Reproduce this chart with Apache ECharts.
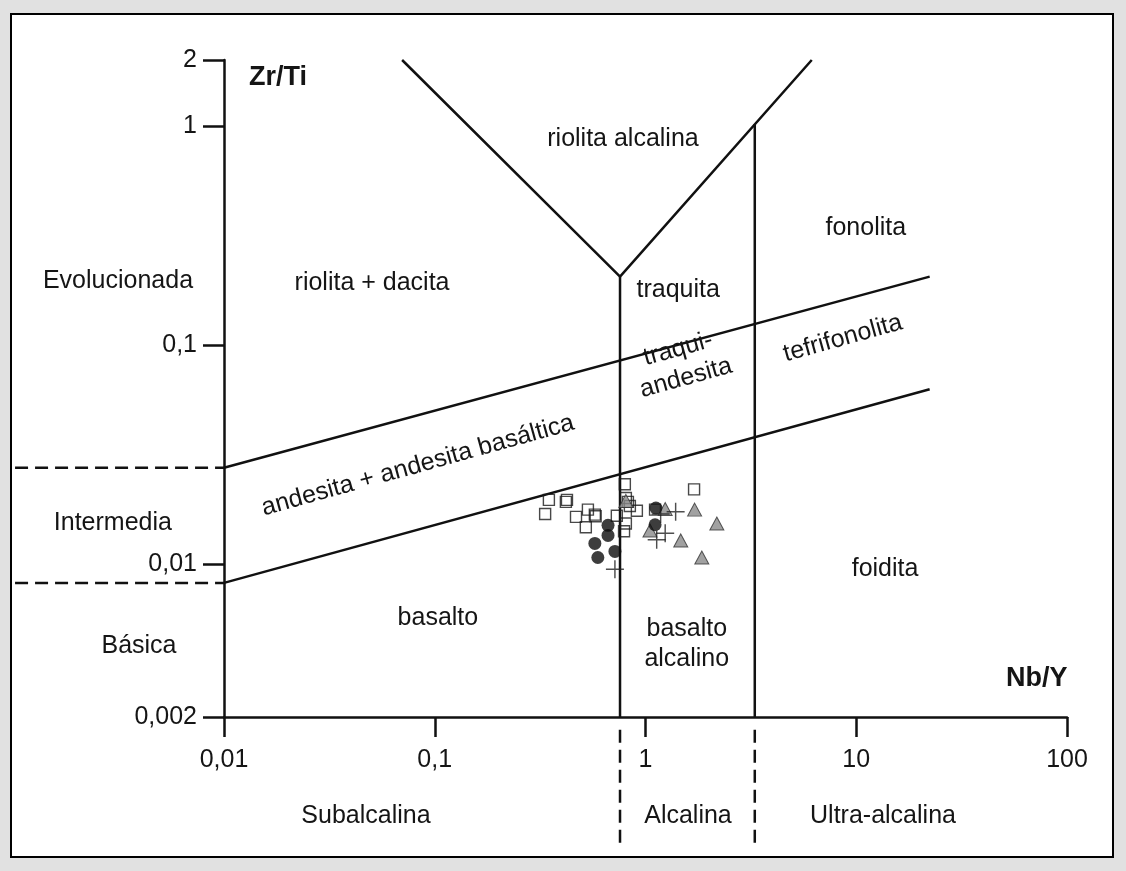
<!DOCTYPE html>
<html>
<head>
<meta charset="utf-8">
<script src="https://cdn.jsdelivr.net/npm/echarts@6/dist/echarts.min.js"></script>
<style>
html,body{margin:0;padding:0;background:#e1e1e1;}
#box{position:absolute;left:10px;top:13px;width:1104px;height:845px;background:#fff;border:2px solid #000;box-sizing:border-box;}
#c{position:absolute;left:0;top:0;width:1126px;height:871px;}
</style>
</head>
<body>
<div id="box"></div>
<div id="c"></div>
<script>
// ---- Axis ticks ----
const xTicks = [0.01, 0.1, 1, 10, 100];
const yTicks = [0.002, 0.01, 0.1, 1, 2];

// ---- Samples [Nb/Y, Zr/Ti] ----
const squares = [
  [0.348, 0.0196], [0.334, 0.0169], [0.424, 0.0196], [0.419, 0.0192],
  [0.468, 0.0164], [0.533, 0.0177], [0.521, 0.0147], [0.575, 0.0168],
  [0.580, 0.0165], [0.731, 0.0166], [0.798, 0.0231], [0.807, 0.0200],
  [0.825, 0.0192], [0.843, 0.0184], [0.910, 0.0175], [0.807, 0.0153],
  [0.791, 0.0141], [1.11, 0.0177], [1.70, 0.0219]
];
const circles = [
  [0.664, 0.0150], [0.664, 0.0135], [0.575, 0.0124], [0.594, 0.0107],
  [0.716, 0.0114], [1.12, 0.0180], [1.11, 0.0151]
];
const triangles = [
  [0.807, 0.0194], [1.24, 0.0178], [1.05, 0.0142], [1.71, 0.0177],
  [2.18, 0.0153], [1.47, 0.0128], [1.85, 0.0107]
];
const crosses = [
  [1.39, 0.0173], [1.18, 0.0169], [1.24, 0.0138], [1.13, 0.0129], [0.716, 0.00946]
];

// ---- Field boundaries ----
const boundaryV = [[0.07, 2], [0.757, 0.205], [6.15, 2]];
const boundaryAlk = [[0.757, 0.205], [0.757, 0.002]];
const boundaryUltra = [[3.3, 1.02], [3.3, 0.002]];
const boundaryUpper = [[0.01, 0.0275], [22.3, 0.205]];
const boundaryLower = [[0.01, 0.00819], [22.3, 0.0628]];
// dashed guides outside the plot frame
const guideEvol = [[0.00102, 0.0275], [0.01, 0.0275]];
const guideBas = [[0.00102, 0.00819], [0.01, 0.00819]];
const guideAlk = [[0.757, 0.00175], [0.757, 0.00053]];
const guideUltra = [[3.3, 0.00175], [3.3, 0.00053]];
const guides = [guideEvol, guideBas, guideAlk, guideUltra];

// ---- Field labels ----
const fieldNames = ['riolita alcalina', 'fonolita', 'Evolucionada', 'riolita + dacita', 'traquita',
  'traqui-\nandesita', 'tefrifonolita', 'andesita + andesita basáltica', 'Intermedia', 'foidita',
  'basalto', 'Básica', 'basalto\nalcalino'];
const fieldX = [0.782, 11.1, 0.00314, 0.0504, 1.43, 1.49, 8.64, 0.0832, 0.00297, 13.7, 0.1035, 0.00395, 1.57];
const fieldY = [0.868, 0.343, 0.195, 0.191, 0.178, 0.0822, 0.107, 0.0281, 0.0153, 0.00946, 0.00568, 0.00421, 0.0043];
const fieldRot = [0, 0, 0, 0, 0, 15.5, 15.5, 15.5, 0, 0, 0, 0, 0];

const FONT = '"Liberation Sans", Arial, Helvetica, sans-serif';
const INK = '#151515';
const fmt = v => String(v).replace('.', ',');

const lineSeries = (data) => ({
  type: 'line', data: data, symbol: 'none', silent: true, clip: false, z: 1,
  lineStyle: { color: '#111', width: 2.5 }, animation: false
});

const chart = echarts.init(document.getElementById('c'));
chart.setOption({
  backgroundColor: 'transparent',
  animation: false,
  textStyle: { fontFamily: FONT },
  grid: { left: 224, right: 59, top: 60, bottom: 154, containLabel: false, outerBoundsMode: 'none' },
  xAxis: {
    type: 'log', logBase: 10, min: xTicks[0], max: xTicks[xTicks.length - 1],
    axisLine: { onZero: false, lineStyle: { color: '#111', width: 2.5 } },
    axisTick: { show: true, inside: false, length: 20, lineStyle: { color: '#111', width: 2.5 } },
    axisLabel: { margin: 31, fontSize: 25, color: INK, fontFamily: FONT, formatter: fmt },
    splitLine: { show: false }, minorTick: { show: false }
  },
  yAxis: {
    type: 'log', logBase: 10, min: yTicks[0], max: yTicks[yTicks.length - 1],
    axisLine: { onZero: false, lineStyle: { color: '#111', width: 2.5 } },
    axisTick: { show: true, inside: false, length: 21, lineStyle: { color: '#111', width: 2.5 } },
    axisLabel: { margin: 27, fontSize: 25, color: INK, fontFamily: FONT, formatter: fmt },
    splitLine: { show: false }, minorTick: { show: false }
  },
  graphic: [
    { type: 'text', left: 249, top: 64, style: { text: 'Zr/Ti', font: 'bold 27px ' + FONT, fill: INK } },
    { type: 'text', left: 1006, top: 665, style: { text: 'Nb/Y', font: 'bold 27px ' + FONT, fill: INK } },
    { type: 'text', x: 366, y: 816, style: { text: 'Subalcalina', font: '25px ' + FONT, fill: INK, align: 'center', verticalAlign: 'middle' } },
    { type: 'text', x: 688, y: 816, style: { text: 'Alcalina', font: '25px ' + FONT, fill: INK, align: 'center', verticalAlign: 'middle' } },
    { type: 'text', x: 883, y: 816, style: { text: 'Ultra-alcalina', font: '25px ' + FONT, fill: INK, align: 'center', verticalAlign: 'middle' } }
  ],
  series: [
    lineSeries(boundaryV), lineSeries(boundaryAlk), lineSeries(boundaryUltra),
    lineSeries(boundaryUpper), lineSeries(boundaryLower),
    {
      type: 'custom', name: 'guides', coordinateSystem: 'cartesian2d', clip: false, silent: true, z: 1,
      data: guides.map(g => g[1]),
      renderItem: (params, api) => {
        const g = guides[params.dataIndex];
        return {
          type: 'polyline',
          shape: { points: g.map(p => api.coord(p)) },
          style: { stroke: '#111', lineWidth: 2.5, lineDash: [13, 7], fill: null }
        };
      }
    },
    {
      type: 'custom', name: 'fields', coordinateSystem: 'cartesian2d', clip: false, silent: true, z: 3,
      data: fieldNames.map((n, i) => [fieldX[i], fieldY[i]]),
      renderItem: (params, api) => {
        const i = params.dataIndex;
        const p = api.coord([fieldX[i], fieldY[i]]);
        return {
          type: 'text', x: p[0], y: p[1], rotation: fieldRot[i] * Math.PI / 180,
          style: {
            text: fieldNames[i], font: '25px ' + FONT, fill: INK,
            align: 'center', verticalAlign: 'middle', lineHeight: 30
          }
        };
      }
    },
    {
      type: 'scatter', name: 'squares', data: squares, symbol: 'rect', symbolSize: 11, z: 4,
      itemStyle: { color: 'rgba(255,255,255,0)', borderColor: '#1a1a1a', borderWidth: 1.4 }
    },
    {
      type: 'scatter', name: 'triangles', data: triangles, symbol: 'triangle', symbolSize: [14, 13], z: 5,
      itemStyle: { color: '#8a8a8a', borderColor: '#333', borderWidth: 1 }
    },
    {
      type: 'scatter', name: 'circles', data: circles, symbol: 'circle', symbolSize: 13, z: 6,
      itemStyle: { color: '#0d0d0d' }
    },
    {
      type: 'scatter', name: 'crosses', data: crosses, z: 7,
      symbol: 'path://M0,9.2H20V10.8H0ZM9.2,0H10.8V20H9.2Z', symbolSize: 18,
      itemStyle: { color: '#222' }
    }
  ]
});
</script>
</body>
</html>
